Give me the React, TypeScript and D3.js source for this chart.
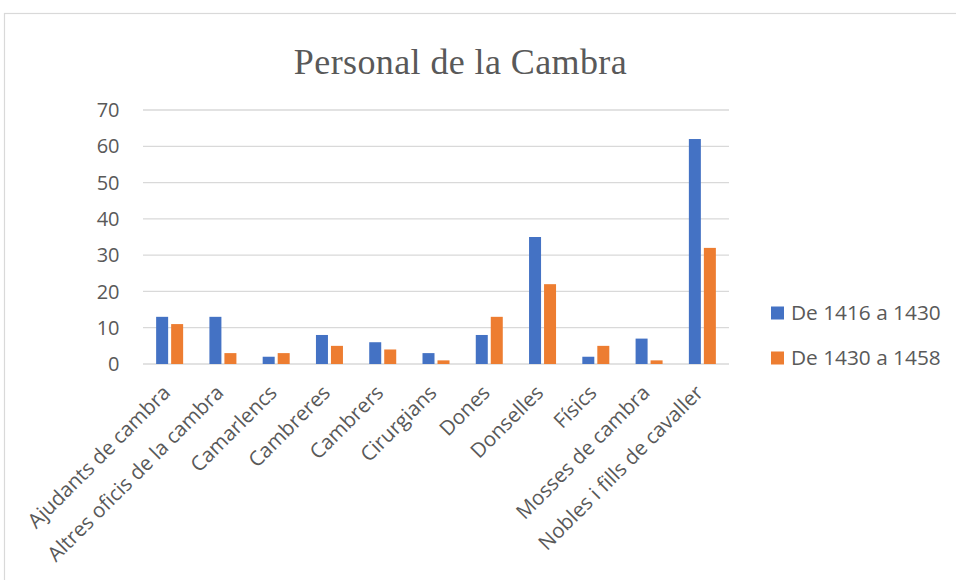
import React from "react";
import * as d3 from "d3";

const categories = [
  "Ajudants de cambra",
  "Altres oficis de la cambra",
  "Camarlencs",
  "Cambreres",
  "Cambrers",
  "Cirurgians",
  "Dones",
  "Donselles",
  "Físics",
  "Mosses de cambra",
  "Nobles i fills de cavaller",
];
const series1Name = "De 1416 a 1430";
const series2Name = "De 1430 a 1458";
const series1 = [13, 13, 2, 8, 6, 3, 8, 35, 2, 7, 62];
const series2 = [11, 3, 3, 5, 4, 1, 13, 22, 5, 1, 32];
const yTicks = [0, 10, 20, 30, 40, 50, 60, 70];
const title = "Personal de la Cambra";

const W = 956;
const H = 580;
const plot = { left: 143, right: 729, top: 110, bottom: 364 };
const colors = ["#4472C4", "#ED7D31"];
const textColor = "#595959";
const font = "'Open Sans', sans-serif";

export default function App() {
  const x = d3
    .scaleBand<string>()
    .domain(categories)
    .range([plot.left, plot.right])
    .paddingInner(0)
    .paddingOuter(0);
  const y = d3.scaleLinear().domain([0, 70]).range([plot.bottom, plot.top]);
  const barW = 12;
  const gap = 3;
  const series = [series1, series2];

  return (
    <svg
      width={W}
      height={H}
      style={{ position: "absolute", left: 0, top: 0, background: "#fff" }}
    >
      <rect x={0} y={0} width={W} height={H} fill="#fff" />
      <rect
        x={4.5}
        y={13.5}
        width={W + 10}
        height={H + 10}
        fill="none"
        stroke="#D9D9D9"
        strokeWidth={1.2}
      />
      <text
        x={460.5}
        y={74}
        textAnchor="middle"
        fontFamily="'Liberation Serif', 'Times New Roman', serif"
        fontSize={36}
        letterSpacing={0.4}
        fill={textColor}
      >
        {title}
      </text>
      {yTicks.map((t) => (
        <g key={t}>
          <line
            x1={plot.left}
            x2={plot.right}
            y1={y(t)}
            y2={y(t)}
            stroke="#D9D9D9"
            strokeWidth={1.3}
          />
          <text
            x={119.5}
            y={y(t)}
            dy="0.36em"
            textAnchor="end"
            fontFamily={font}
            fontSize={20}
            fill={textColor}
          >
            {t}
          </text>
        </g>
      ))}
      {categories.map((c, i) => {
        const cx = (x(c) as number) + x.bandwidth() / 2;
        return (
          <g key={c}>
            {series.map((s, k) => {
              const bx = k === 0 ? cx - gap / 2 - barW : cx + gap / 2;
              return (
                <rect
                  key={k}
                  x={bx}
                  y={y(s[i])}
                  width={barW}
                  height={y(0) - y(s[i])}
                  fill={colors[k]}
                />
              );
            })}
            <text
              transform={`translate(${cx + 2},${plot.bottom + 30}) rotate(-45)`}
              textAnchor="end"
              fontFamily={font}
              fontSize={20.5}
              fill={textColor}
            >
              {c}
            </text>
          </g>
        );
      })}
      {[series1Name, series2Name].map((n, k) => (
        <g key={n} transform={`translate(771,${313 + k * 45})`}>
          <rect x={0} y={-6.5} width={13} height={13} fill={colors[k]} />
          <text
            x={20}
            y={0}
            dy="0.35em"
            fontFamily={font}
            fontSize={20.8}
            fill={textColor}
          >
            {n}
          </text>
        </g>
      ))}
    </svg>
  );
}
